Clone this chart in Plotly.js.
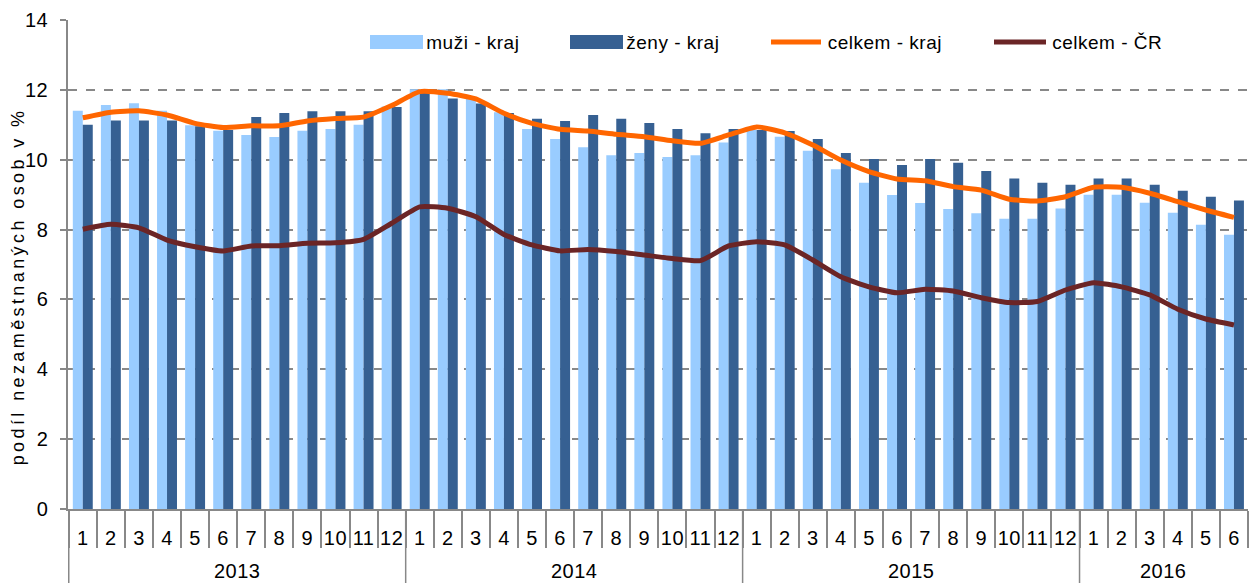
<!DOCTYPE html>
<html><head><meta charset="utf-8">
<script src="https://cdn.plot.ly/plotly-3.0.1.min.js"></script>
<style>
body{margin:0;padding:0;background:#fff}
#chart{width:1250px;height:583px}
#chart .main-svg text{letter-spacing:0.5px}
</style>
</head><body><div id="chart"></div>
<script>
const years = ["2013","2014","2015","2016"];
const monthsPerYear = [12,12,12,6];
const muziKraj = [11.40,11.57,11.62,11.40,10.99,10.83,10.71,10.65,10.83,10.88,11.00,11.52,
                  12.02,12.02,11.76,11.36,10.88,10.59,10.36,10.13,10.19,10.08,10.13,10.49,
                  10.85,10.66,10.26,9.73,9.34,8.99,8.76,8.59,8.47,8.31,8.31,8.60,
                  9.00,9.00,8.77,8.48,8.14,7.85];
const zenyKraj = [11.00,11.12,11.12,11.12,10.96,10.85,11.22,11.34,11.39,11.39,11.39,11.51,
                  11.98,11.75,11.61,11.34,11.17,11.11,11.28,11.17,11.05,10.88,10.76,10.88,
                  10.85,10.82,10.59,10.19,10.02,9.85,10.02,9.91,9.68,9.46,9.34,9.28,
                  9.46,9.46,9.28,9.11,8.94,8.83];
const celkemKraj = [11.20,11.36,11.40,11.28,11.04,10.92,10.97,10.97,11.11,11.18,11.22,11.55,
                    11.95,11.90,11.74,11.33,11.04,10.87,10.82,10.73,10.66,10.54,10.47,10.71,
                    10.94,10.77,10.42,9.99,9.66,9.45,9.40,9.23,9.13,8.87,8.82,8.94,
                    9.21,9.21,9.04,8.80,8.56,8.35];
const celkemCR = [8.01,8.15,8.05,7.70,7.51,7.39,7.53,7.54,7.61,7.62,7.72,8.18,
                  8.65,8.61,8.37,7.86,7.56,7.39,7.43,7.37,7.27,7.17,7.11,7.53,
                  7.65,7.56,7.13,6.65,6.36,6.19,6.29,6.24,6.05,5.91,5.94,6.27,
                  6.48,6.36,6.13,5.72,5.44,5.27];
const seriesNames = ["muži - kraj","ženy - kraj","celkem - kraj","celkem - ČR"];
const seriesColors = ["#99CCFF","#366092","#FF6600","#6B2526"];
const yTitle = "podíl nezaměstnaných osob v %";

// category keys (unique) + month labels
const keys = [], monthLabels = [], yearStart = [];
years.forEach((y,i)=>{
  yearStart.push(keys.length);
  for(let m=1;m<=monthsPerYear[i];m++){ keys.push(y+"-"+m); monthLabels.push(String(m)); }
});

const W=1250, H=583, L=68, R=2, T=20, B=74;
const pw=W-L-R, ph=H-T-B;
const px = v => (v-L)/pw;          // pixel -> paper x
const py = v => (H-B-v)/ph;        // pixel -> paper y

const font = "Liberation Sans, Arial, sans-serif";
const traces = [
  {type:"bar", name:seriesNames[0], x:keys, y:muziKraj, marker:{color:seriesColors[0]}},
  {type:"bar", name:seriesNames[1], x:keys, y:zenyKraj, marker:{color:seriesColors[1]}},
  {type:"scatter", mode:"lines", name:seriesNames[2], x:keys, y:celkemKraj,
   line:{color:seriesColors[2], width:5, shape:"spline", smoothing:0.5}},
  {type:"scatter", mode:"lines", name:seriesNames[3], x:keys, y:celkemCR,
   line:{color:seriesColors[3], width:5, shape:"spline", smoothing:0.5}}
];

const shapes = [], annotations = [];
// year dividers and year labels
years.forEach((y,i)=>{
  const s = yearStart[i]-0.5, e = yearStart[i]+monthsPerYear[i]-0.5;
  shapes.push({type:"line", xref:"x", yref:"paper", x0:s, x1:s, y0:0, y1:py(H),
               line:{color:"#888", width:1.5}});
  annotations.push({xref:"x", yref:"paper", x:(s+e)/2, y:py(571), text:y, showarrow:false,
                    xanchor:"center", yanchor:"middle", font:{family:font, size:20, color:"#000"}});
});
// manual legend
const legX = [370, 570, 769, 992], legW = [53, 53, 54, 56], legTextX = [427, 627, 829, 1053];
seriesNames.forEach((n,i)=>{
  if(i<2){
    shapes.push({type:"rect", xref:"paper", yref:"paper", x0:px(legX[i]), x1:px(legX[i]+legW[i]),
                 y0:py(35), y1:py(49), fillcolor:seriesColors[i], line:{width:0}});
  } else {
    shapes.push({type:"line", xref:"paper", yref:"paper", x0:px(legX[i]+2), x1:px(legX[i]+legW[i]-2),
                 y0:py(42), y1:py(42), line:{color:seriesColors[i], width:5}});
  }
  annotations.push({xref:"paper", yref:"paper", x:px(legTextX[i]), y:py(42), text:n, showarrow:false,
                    xanchor:"left", yanchor:"middle", font:{family:font, size:19, color:"#000"}});
});
// y axis title
annotations.push({xref:"paper", yref:"paper", x:px(18), y:py(287), text:yTitle, showarrow:false,
                  textangle:-90, xanchor:"center", yanchor:"middle",
                  font:{family:font, size:18, color:"#000"}});

const layout = {
  width:W, height:H,
  margin:{l:L, r:R, t:T, b:B},
  paper_bgcolor:"#fff", plot_bgcolor:"#fff",
  font:{family:font, size:20, color:"#000"},
  barmode:"group", bargap:0.29, bargroupgap:0,
  showlegend:false,
  xaxis:{type:"category", tickmode:"array", tickvals:keys, ticktext:monthLabels, tickangle:0,
         showline:true, linecolor:"#888", linewidth:1.5,
         ticks:"outside", tickson:"boundaries", ticklen:37, tickcolor:"#888", tickwidth:1.5,
         ticklabelstandoff:10, tickfont:{family:font, size:20}, showgrid:false},
  yaxis:{range:[0,14], dtick:2, showline:true, linecolor:"#888", linewidth:1.5,
         ticks:"outside", ticklen:6, tickcolor:"#888", tickwidth:1.5, ticklabelstandoff:8,
         showgrid:true, gridcolor:"#888", griddash:"dash", gridwidth:1.5, zeroline:false,
         tickfont:{family:font, size:20}},
  shapes:shapes, annotations:annotations
};
Plotly.newPlot("chart", traces, layout, {displayModeBar:false}).then(()=>{
  document.querySelectorAll("#chart .annotation text").forEach(t=>{
    if(t.textContent===yTitle){ t.style.letterSpacing="3.4px"; }
  });
});
</script></body></html>
